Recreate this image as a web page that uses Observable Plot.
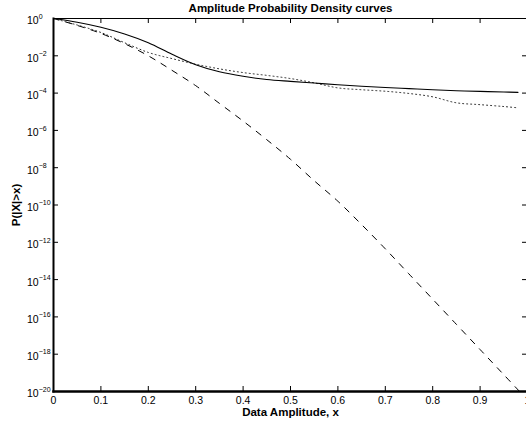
<!DOCTYPE html>
<html><head><meta charset="utf-8">
<script src="https://cdn.jsdelivr.net/npm/d3@7"></script>
<script src="https://cdn.jsdelivr.net/npm/@observablehq/plot@0.6"></script>
<style>
html,body{margin:0;padding:0;overflow:hidden;background:#fff;}
#chart svg{display:block;max-width:none !important;width:560px !important;height:421px !important;}
</style></head><body><div id="chart"></div>
<script>
const titleText = "Amplitude Probability Density curves";
const xLabel = "Data Amplitude, x";
const yLabel = "P(|X|>x)";

// x positions shared by the solid and dotted curves
const xGrid = [0, 0.05, 0.1, 0.15, 0.2, 0.25, 0.3, 0.35, 0.4, 0.45, 0.5, 0.55, 0.6, 0.65, 0.7, 0.75, 0.8, 0.85, 0.9, 0.95, 0.98];
// log10 of P(|X|>x)
const solidExp  = [0, -0.2, -0.47, -0.83, -1.3, -1.92, -2.48, -2.86, -3.1, -3.27, -3.37, -3.46, -3.55, -3.63, -3.7, -3.76, -3.82, -3.87, -3.91, -3.94, -3.96];
const dottedExp = [0, -0.35, -0.75, -1.3, -1.82, -2.15, -2.45, -2.7, -2.9, -3.05, -3.22, -3.45, -3.72, -3.82, -3.9, -4.02, -4.2, -4.52, -4.62, -4.72, -4.79];
const dashedX   = [0, 0.05, 0.1, 0.15, 0.2, 0.25, 0.3, 0.35, 0.4, 0.45, 0.5, 0.55, 0.6, 0.65, 0.7, 0.75, 0.8, 0.85, 0.9, 0.95, 1.0];
const dashedExp = [0, -0.37, -0.8, -1.35, -2.0, -2.78, -3.6, -4.55, -5.5, -6.5, -7.55, -8.7, -9.8, -11.05, -12.35, -13.7, -15.05, -16.4, -17.75, -19.1, -20.45];

const xTicks = [0, 0.1, 0.2, 0.3, 0.4, 0.5, 0.6, 0.7, 0.8, 0.9, 1];
const xTickLabels = ["0", "0.1", "0.2", "0.3", "0.4", "0.5", "0.6", "0.7", "0.8", "0.9", "1"];
const yTickExps = [-20, -18, -16, -14, -12, -10, -8, -6, -4, -2, 0];

const toP = e => Math.pow(10, e);
const solid = xGrid.map((x, i) => ({x, p: toP(solidExp[i])}));
const dotted = xGrid.map((x, i) => ({x, p: toP(dottedExp[i])}));
const dashed = dashedX.map((x, i) => ({x, p: toP(dashedExp[i])}));
const yTickVals = yTickExps.map(toP);

const FONT = '"Liberation Sans", Arial, Helvetica, sans-serif';
const W = 560, H = 421, mL = 53, mR = 33, mT = 18, mB = 30;
const fw = W - mL - mR, fh = H - mT - mB, tk = 5;

const chart = Plot.plot({
  width: W, height: H,
  marginLeft: mL, marginRight: mR, marginTop: mT, marginBottom: mB,
  style: {fontFamily: FONT, fontSize: "10.5px", color: "black", background: "white", overflow: "visible", maxWidth: "none"},
  x: {domain: [0, 1]},
  y: {type: "log", domain: [1e-20, 1]},
  marks: [
    Plot.axisX(xTicks, {tickSize: 0, tickPadding: 5, tickFormat: d => xTickLabels[xTicks.indexOf(d)], label: null}),
    Plot.axisY(yTickVals, {tickSize: 0, tickPadding: 8, tickFormat: d => String(Math.round(Math.log10(d))), label: null}),
    Plot.tickX(xTicks, {x: d => d, insetTop: fh - tk, stroke: "black"}),
    Plot.tickX(xTicks, {x: d => d, insetBottom: fh - tk, stroke: "black"}),
    Plot.tickY(yTickVals, {y: d => d, insetRight: fw - tk, stroke: "black"}),
    Plot.tickY(yTickVals, {y: d => d, insetLeft: fw - tk, stroke: "black"}),
    Plot.line(dashed, {x: "x", y: "p", stroke: "black", strokeWidth: 1, strokeDasharray: "6,7", curve: "catmull-rom", clip: true}),
    Plot.line(dotted, {x: "x", y: "p", stroke: "#222", strokeWidth: 1, strokeDasharray: "1,3", curve: "catmull-rom", clip: true}),
    Plot.line(solid, {x: "x", y: "p", stroke: "black", strokeWidth: 1.1, curve: "catmull-rom", clip: true}),
    Plot.frame({stroke: "black", strokeWidth: 1}),
    Plot.frame({anchor: "left", stroke: "black", strokeWidth: 2}),
    Plot.frame({anchor: "bottom", stroke: "black", strokeWidth: 2.5}),
    Plot.text([titleText], {text: d => d, frameAnchor: "top", lineAnchor: "middle", textAnchor: "middle", dy: -10, fontWeight: "bold", fontSize: 11.5}),
    Plot.text([xLabel], {text: d => d, frameAnchor: "bottom", lineAnchor: "middle", textAnchor: "middle", dy: 21, fontWeight: "bold", fontSize: 11.5}),
    Plot.text([yLabel], {text: d => d, frameAnchor: "left", lineAnchor: "middle", textAnchor: "middle", dx: -37, rotate: -90, fontWeight: "bold", fontSize: 11.5})
  ]
});

document.getElementById("chart").appendChild(chart);

// turn exponent tick labels into 10^n with a superscript, left-aligned at x = 27
const ns = "http://www.w3.org/2000/svg";
const svgLeft = chart.getBoundingClientRect().left;
chart.querySelectorAll('g[aria-label="y-axis tick label"] text').forEach(t => {
  const e = t.textContent.replace("-", "\u2212");
  t.setAttribute("text-anchor", "start");
  t.setAttribute("x", 0);
  t.textContent = "";
  const base = document.createElementNS(ns, "tspan");
  base.setAttribute("dy", "2.6");
  base.textContent = "10";
  const sup = document.createElementNS(ns, "tspan");
  sup.setAttribute("dy", "-5.7");
  sup.setAttribute("font-size", "7");
  sup.textContent = e;
  t.appendChild(base);
  t.appendChild(sup);
  const left = base.getBoundingClientRect().left - svgLeft;
  t.setAttribute("x", 27 - left);
});
</script></body></html>
